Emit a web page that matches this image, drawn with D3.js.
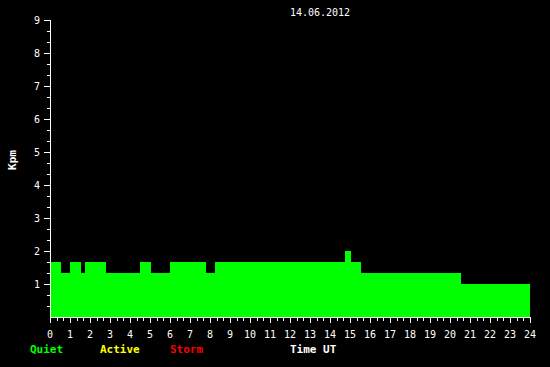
<html>
<head>
<style>
  body { margin: 0; background: #000; }
  text { font-family: "DejaVu Sans Mono", monospace; fill: #fff; }
</style>
<script src="https://cdn.jsdelivr.net/npm/d3@7"></script>
</head>
<body>
<svg id="chart" width="550" height="367"></svg>
<script>
// step start times (hours UT) and Kpm level for each step
const stepTimes = [0, 0.55, 1.0, 1.55, 1.75, 2.8, 4.5, 5.05, 6.0, 7.8, 8.25, 14.75, 15.05, 15.55, 20.55, 24];
const kpmValues = [1.67, 1.33, 1.67, 1.33, 1.67, 1.33, 1.67, 1.33, 1.67, 1.33, 1.67, 2.0, 1.67, 1.33, 1.0, 1.0];
const yTicks = [1, 2, 3, 4, 5, 6, 7, 8, 9];
const xTicks = d3.range(0, 25);
const legend = [["Quiet", "#00ff00"], ["Active", "#ffff00"], ["Storm", "#ff0000"]];
const dateLabel = "14.06.2012";

const svg = d3.select("#chart");
svg.append("rect").attr("width", 550).attr("height", 367).attr("fill", "#000");

const x = d3.scaleLinear().domain([0, 24]).range([50, 530]);
const y = d3.scaleLinear().domain([0, 9]).range([317, 20]);

const data = stepTimes.map((t, i) => ({ t: t, v: kpmValues[i] }));

// green step area
const area = d3.area()
    .x(d => x(d.t))
    .y0(y(0))
    .y1(d => y(d.v))
    .curve(d3.curveStepAfter);

svg.append("path")
    .datum(data)
    .attr("d", area)
    .attr("fill", "#00ff00")
    .attr("shape-rendering", "crispEdges");

// y axis
const g = svg.append("g").attr("stroke", "#fff").attr("shape-rendering", "crispEdges");
g.append("line").attr("x1", 50.5).attr("x2", 50.5).attr("y1", y(9)).attr("y2", y(0) + 1);
d3.range(1, 28).forEach(i => {
    const yy = Math.round(y(i / 3)) + 0.5;
    const major = i % 3 === 0;
    g.append("line").attr("x1", major ? 44 : 47).attr("x2", 50).attr("y1", yy).attr("y2", yy);
});
svg.selectAll(".ylab").data(yTicks).join("text")
    .attr("x", 40).attr("y", d => y(d) + 4)
    .attr("text-anchor", "end")
    .attr("font-size", 10)
    .text(d => d);

// x axis
g.append("line").attr("x1", 50).attr("x2", 531).attr("y1", 317.5).attr("y2", 317.5);
d3.range(0, 73).forEach(i => {
    const xx = Math.round(x(i / 3)) + 0.5;
    const major = i % 3 === 0;
    g.append("line").attr("x1", xx).attr("x2", xx).attr("y1", 317).attr("y2", major ? 323 : 321);
});
svg.selectAll(".xlab").data(xTicks).join("text")
    .attr("x", d => x(d)).attr("y", 338)
    .attr("text-anchor", "middle")
    .attr("font-size", 10)
    .text(d => d);

// titles
svg.append("text").attr("x", 320).attr("y", 16)
    .attr("text-anchor", "middle").attr("font-size", 10).text(dateLabel);
svg.append("text")
    .attr("transform", "translate(16,160) rotate(-90)")
    .attr("text-anchor", "middle").attr("font-size", 11).attr("font-weight", "bold")
    .text("Kpm");

// legend
const legX = [30, 100, 170];
legend.forEach((d, i) => {
    svg.append("text").attr("x", legX[i]).attr("y", 353)
        .attr("font-size", 11).attr("font-weight", "bold")
        .style("fill", d[1]).text(d[0]);
});
svg.append("text").attr("x", 290).attr("y", 353)
    .attr("font-size", 11).attr("font-weight", "bold").text("Time UT");
</script>
</body>
</html>
